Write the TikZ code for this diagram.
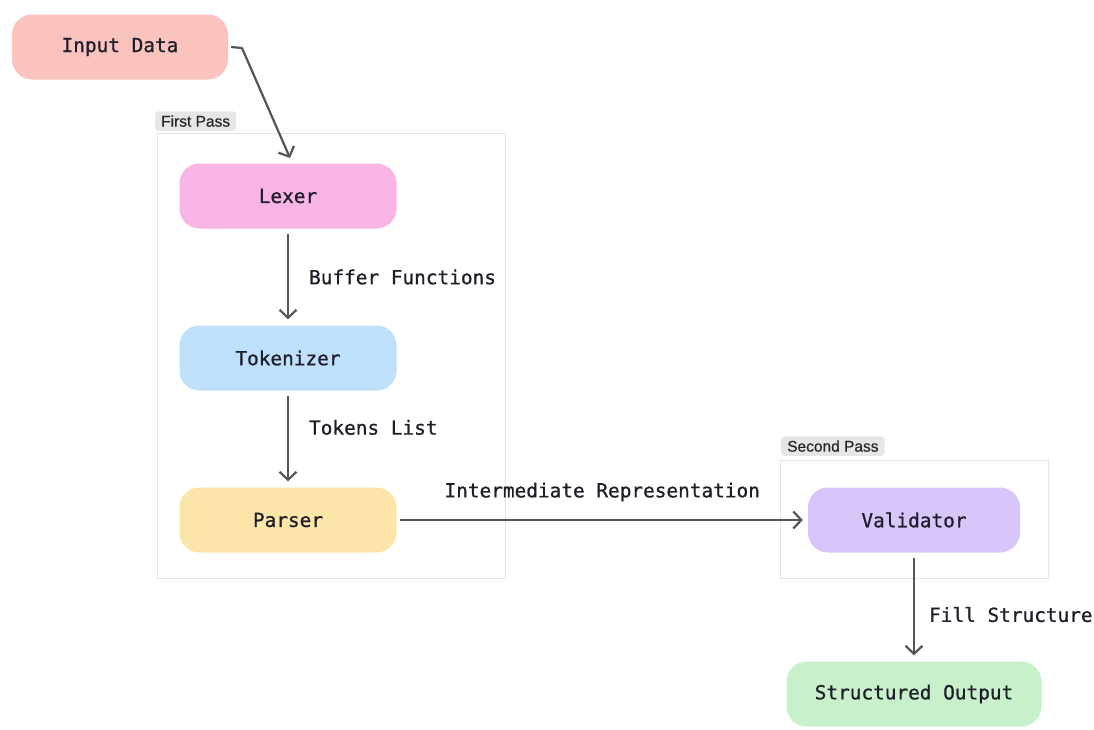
\documentclass[tikz,border=0pt]{standalone}
\usepackage{fontspec}
\setmainfont{Liberation Sans}
\setmonofont{DejaVu Sans Mono}
\newfontfamily\stagefont[FakeBold=0.8]{DejaVu Sans Mono}
\newfontfamily\tagfont[FakeBold=0.6]{Liberation Sans}
\usetikzlibrary{arrows.meta}

\definecolor{ink}{HTML}{1E1E2A}
\definecolor{wire}{HTML}{555555}
\definecolor{groupline}{HTML}{E4E4E4}
\definecolor{tagfill}{HTML}{E6E6E6}
\definecolor{cInput}{HTML}{FAC3BE}
\definecolor{cLexer}{HTML}{F9B4E6}
\definecolor{cToken}{HTML}{BEE0FB}
\definecolor{cParse}{HTML}{FCE5A8}
\definecolor{cValid}{HTML}{D8C6FB}
\definecolor{cOut}{HTML}{C8F0CB}

\tikzset{
  stage/.style={rectangle, rounded corners=20pt, minimum height=65pt,
    minimum width=217pt, inner sep=0pt, text=ink,
    font=\stagefont\fontsize{19.4}{21}\selectfont},
  group/.style={rectangle, draw=groupline, line width=0.8pt, fill=white,
    anchor=north west, inner sep=0pt},
  tag/.style={rectangle, rounded corners=3pt, fill=tagfill, text=black!85,
    inner xsep=6pt, inner ysep=4pt, font=\tagfont\fontsize{15.5}{17}\selectfont},
  arr/.style={draw=wire, line width=2.2pt,
    -{Straight Barb[length=8pt,width=17pt,line width=2.2pt]}},
  elabel/.style={inner sep=0pt, text=ink,
    font=\stagefont\fontsize{19.4}{21}\selectfont}
}

\begin{document}
\begin{tikzpicture}[x=1pt,y=-1pt]
  \useasboundingbox[fill=white] (0,0) rectangle (1094,729);

  % pass containers
  \node[group, minimum width=348pt, minimum height=445pt] (first) at (157,133) {};
  \node[group, minimum width=268pt, minimum height=118pt] (second) at (780,460) {};
  \node[tag, anchor=south west] (firsttag) at (155,131) {First Pass};
  \node[tag, anchor=south west] (secondtag) at (781,456) {Second Pass};

  % stages
  \node[stage, fill=cInput, minimum width=216pt] (inp) at (120,47) {Input Data};
  \node[stage, fill=cLexer] (lex) at (288,196) {Lexer};
  \node[stage, fill=cToken] (tok) at (288,358) {Tokenizer};
  \node[stage, fill=cParse] (par) at (288,520) {Parser};
  \node[stage, fill=cValid, minimum width=212pt] (val) at (914,520) {Validator};
  \node[stage, fill=cOut, minimum width=255pt] (out) at (914,694) {Structured Output};

  % connectors
  \coordinate (bend) at (242,48);
  \coordinate (lexin) at (290,158);
  \draw[arr, line join=round] ([xshift=3pt]inp.east) -- (bend) -- (lexin);
  \draw[arr, shorten <=5pt, shorten >=6pt] (lex) -- (tok)
    node[elabel, pos=0.5, anchor=west, xshift=20pt] {Buffer Functions};
  \draw[arr, shorten <=5pt, shorten >=6pt] (tok) -- (par)
    node[elabel, pos=0.38, anchor=west, xshift=20pt] {Tokens List};
  \draw[arr, shorten <=3pt, shorten >=5pt] (par) -- (val)
    node[elabel, midway, yshift=28pt] {Intermediate Representation};
  \draw[arr, shorten <=5pt, shorten >=6pt] (val) -- (out)
    node[elabel, pos=0.57, anchor=west, xshift=14pt] {Fill Structure};
\end{tikzpicture}
\end{document}
